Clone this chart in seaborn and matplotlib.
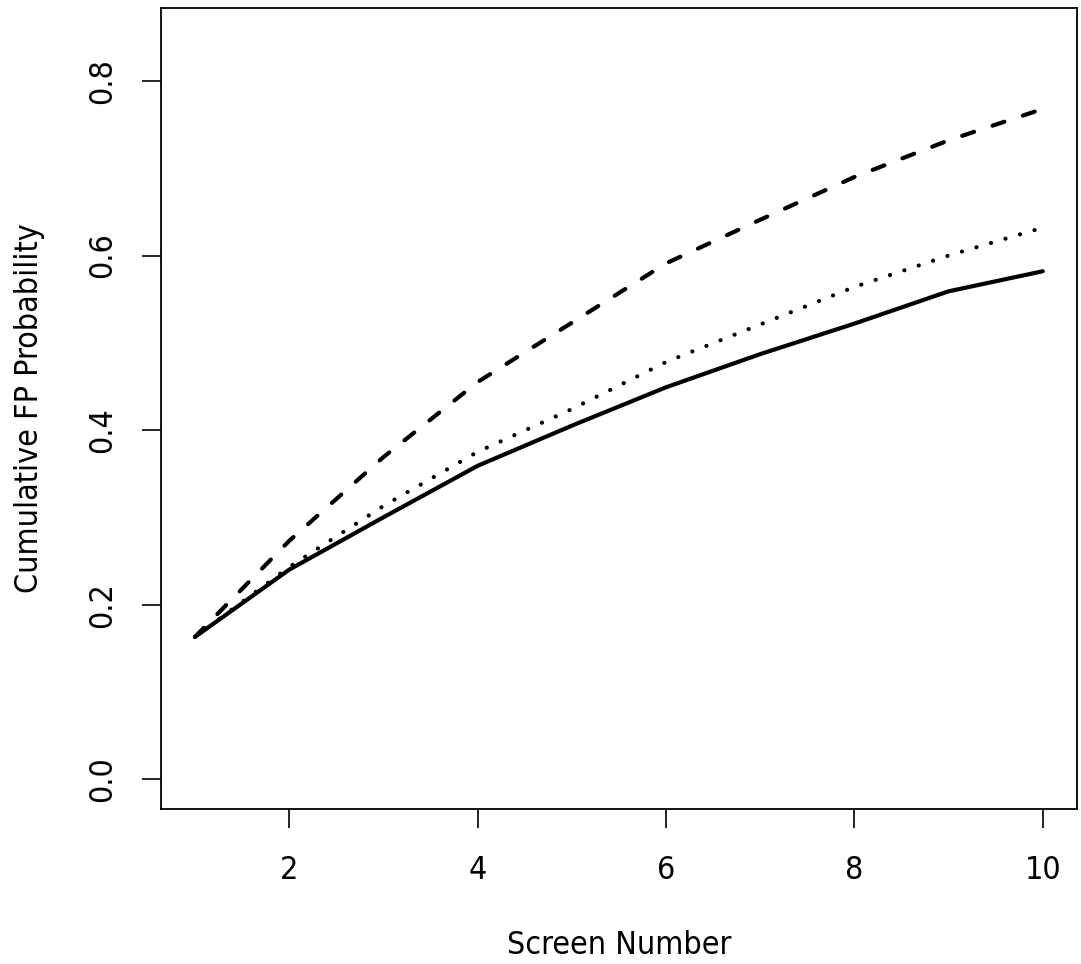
import matplotlib
matplotlib.use("Agg")
import matplotlib.pyplot as plt
import seaborn as sns
import pandas as pd

# values
screen = [1, 2, 3, 4, 5, 6, 7, 8, 9, 10]
solid_vals = [0.163, 0.240, 0.300, 0.359, 0.405, 0.449, 0.487, 0.522, 0.559, 0.582]
dotted_vals = [0.163, 0.243, 0.313, 0.375, 0.424, 0.478, 0.521, 0.564, 0.600, 0.632]
dashed_vals = [0.163, 0.273, 0.369, 0.455, 0.523, 0.591, 0.641, 0.690, 0.732, 0.768]
x_ticks = [2, 4, 6, 8, 10]
y_ticks = [0.0, 0.2, 0.4, 0.6, 0.8]

sns.set_style("white")
plt.rcParams["font.family"] = ["DejaVu Sans"]
plt.rcParams["font.stretch"] = "condensed"
plt.rcParams["lines.scale_dashes"] = False
plt.rcParams["text.color"] = "black"
plt.rcParams["axes.labelcolor"] = "black"
plt.rcParams["xtick.color"] = "black"
plt.rcParams["ytick.color"] = "black"

fig = plt.figure(figsize=(10.81, 9.64), dpi=100)
ax = fig.add_axes([0.149, 0.161, 0.847, 0.831])

df = pd.DataFrame({"x": screen, "solid": solid_vals, "dotted": dotted_vals, "dashed": dashed_vals})

sns.lineplot(data=df, x="x", y="solid", ax=ax, color="black", lw=3,
             solid_capstyle="round")
sns.lineplot(data=df, x="x", y="dotted", ax=ax, color="black", lw=3,
             linestyle=(0, (0.1, 10.8)), dash_capstyle="round")
sns.lineplot(data=df, x="x", y="dashed", ax=ax, color="black", lw=3,
             linestyle=(0, (9, 14)), dash_capstyle="round")

ax.set_xlim(0.64, 10.36)
ax.set_ylim(-0.034, 0.884)
ax.set_xticks(x_ticks)
ax.set_yticks(y_ticks)
ax.set_yticklabels([f"{v:.1f}" for v in y_ticks], rotation=90, va="center")
ax.tick_params(axis="both", direction="out", length=14, width=1.2, color="black",
               labelcolor="black", labelsize=23, bottom=True, left=True)
ax.tick_params(axis="x", pad=19)
ax.tick_params(axis="y", pad=17)
ax.set_xlabel("Screen Number", fontsize=23, labelpad=32, color="black")
ax.set_ylabel("Cumulative FP Probability", fontsize=23, labelpad=30, color="black")
for s in ax.spines.values():
    s.set_color("black")
    s.set_linewidth(1.3)

fig.savefig("out.png", dpi=100)
